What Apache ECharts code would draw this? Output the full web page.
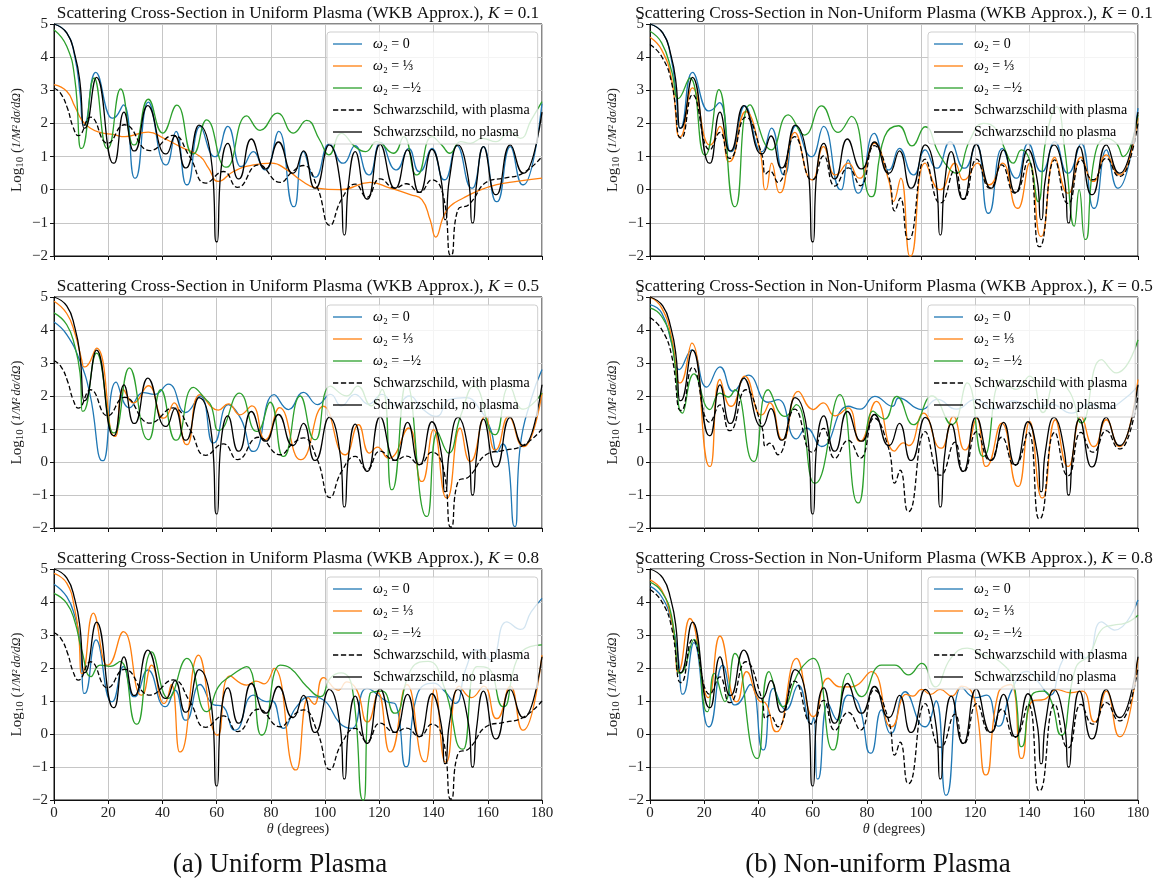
<!DOCTYPE html>
<html>
<head>
<meta charset="utf-8">
<title>Scattering cross-section</title>
<script src="https://cdn.jsdelivr.net/npm/echarts/dist/echarts.min.js"></script>
<style>
  html, body { margin: 0; padding: 0; background: #fff; }
  #chart { width: 1167px; height: 881px; }
</style>
</head>
<body>
<div id="chart"></div>
<script>
// theta (deg) -> log10 cross-section

// same curve in every panel
const blackNoPlasma = [[0,5.0],[4.7,4.73],[7.7,4.07],[9.6,3.22],[11.0,1.86],[11.4,1.86],[15.7,3.39],[21.8,0.8],[22.2,0.8],[25.8,2.34],[29.4,1.17],[29.8,1.17],[34.6,2.54],[41.0,1.08],[41.4,1.08],[44.6,1.62],[48.4,0.66],[48.8,0.66],[53.5,1.95],[58.3,0.7],[59.8,-1.57],[60.2,-1.57],[61.6,0.6],[64.1,1.4],[67.9,0.33],[68.3,0.33],[72.8,1.53],[77.8,0.63],[78.2,0.63],[82.8,1.44],[87.9,0.5],[88.3,0.5],[92,1.17],[96.1,0.05],[96.5,0.05],[101.5,1.35],[105.6,0.2],[106.9,-1.36],[107.3,-1.36],[108.6,0.15],[111.1,1.15],[115.3,-0.28],[115.7,-0.28],[120.3,1.37],[125.6,0.05],[126.0,0.05],[130.4,1.2],[134.6,-0.08],[135.0,-0.08],[139.4,1.22],[142.8,0.3],[144.1,-0.9],[144.5,-0.9],[145.8,0.3],[149,1.35],[152.9,0.3],[154.2,-1.0],[154.6,-1.0],[155.9,0.2],[158.4,1.3],[162.8,-0.15],[163.2,-0.15],[168.3,1.35],[173.0,0.5],[173.4,0.5],[180,2.34]];

// Schwarzschild with plasma
const dashUniform = [[0,3.07],[2.5,2.9],[5,2.45],[7,1.9],[9,1.63],[13.5,2.19],[19.8,1.4],[26,1.96],[35.4,1.18],[44,1.64],[50,1.0],[56,0.2],[62.5,0.55],[67.7,0.07],[75.4,0.75],[83.4,0.22],[88,0.55],[92,0.73],[97,0.1],[101.8,-1.08],[106,-0.3],[111.1,0.17],[115.4,-0.23],[120.3,0.33],[125.8,0.05],[130,0.18],[134.8,-0.08],[139.4,0.3],[143.5,-0.15],[146.2,-1.97],[146.6,-1.97],[149,-0.6],[153,-0.45],[160,0.25],[166,0.35],[173,0.5],[180,1.0]];
const dashNonUniform = [[0,4.38],[4.3,4.02],[8,3.22],[11.2,1.56],[11.6,1.56],[15.7,2.87],[22.1,1.2],[25.8,1.73],[29.2,0.95],[29.6,0.95],[35.3,2.19],[41.2,1.08],[42.6,0.47],[44.1,0.57],[47.2,0.22],[53.4,1.6],[59.6,0.3],[60.0,0.3],[64,1.02],[68.2,0.11],[73.1,0.66],[77.6,0.12],[82.7,1.33],[88.0,0.42],[90.3,-0.64],[92.3,-0.25],[95.1,-1.5],[95.5,-1.5],[101.5,0.92],[106.8,-0.4],[107.2,-0.4],[112.5,0.6],[115.4,-0.29],[115.8,-0.29],[120.5,0.92],[125.2,0.05],[125.6,0.05],[129.7,0.75],[134.4,-0.1],[134.8,-0.1],[139.5,0.9],[143.4,-1.72],[143.8,-1.72],[149.3,0.9],[154,-0.41],[154.4,-0.41],[159,0.9],[163.2,0.3],[163.6,0.3],[168.3,0.95],[173.1,0.4],[173.5,0.4],[180,2.0]];

// uniform plasma, K = 0.1
const blueU1 = [[0,5.0],[4.7,4.73],[7.7,4.0],[9.6,2.9],[10.7,1.95],[11.1,1.95],[15.4,3.54],[21.4,2.16],[21.8,2.16],[25.6,2.56],[29.7,0.35],[30.1,0.35],[34.8,2.64],[41.1,0.75],[41.5,0.75],[45,1.76],[48.8,0.15],[49.2,0.15],[53.9,1.91],[59.2,1.0],[59.6,1.0],[64.1,1.91],[68.8,0.7],[69.2,0.7],[73.5,1.15],[77.8,0.6],[78.2,0.6],[82.9,1.76],[88.3,-0.51],[88.7,-0.51],[92,1.15],[96.1,0.38],[96.5,0.38],[101.6,1.38],[106.5,0.8],[106.9,0.8],[111,1.33],[116,0.45],[116.4,0.45],[120.5,1.43],[126,0.6],[126.4,0.6],[130.8,1.25],[134.6,0.55],[135,0.55],[139.4,1.25],[143.8,0.3],[144.2,0.3],[148.6,1.33],[154,0.05],[154.4,0.05],[158.4,1.3],[163.1,-0.36],[163.5,-0.36],[168.3,1.3],[172.8,0.15],[173.2,0.15],[180,2.6]];
const orangeU1 = [[0,3.17],[4.7,2.97],[7.7,2.51],[10.2,2.11],[13.3,1.86],[17,1.73],[22,1.66],[26.2,1.6],[31.7,1.7],[34.8,1.74],[40.3,1.56],[46.5,1.3],[53.9,1.0],[57,0.65],[60.6,0.25],[66.2,0.55],[73.6,0.75],[80.3,0.8],[85.9,0.6],[90.8,0.3],[96.9,0.05],[105.5,0.0],[116.6,0.22],[124,0.05],[131.4,-0.15],[135.7,-0.3],[138.7,-0.9],[140.8,-1.43],[143.7,-0.8],[146.1,-0.5],[151,-0.25],[156,-0.05],[163.3,0.15],[170.7,0.25],[180,0.35]];
const greenU1 = [[0,4.83],[4.7,4.33],[7.7,3.32],[9.9,1.25],[10.3,1.25],[14.8,3.37],[19.5,1.25],[19.9,1.25],[24.6,3.04],[29.3,1.35],[29.7,1.35],[34.8,2.73],[40.1,1.71],[45.3,2.55],[51.0,1.08],[51.4,1.08],[56.3,2.11],[63.3,0.68],[63.7,0.68],[71.1,2.23],[76,1.79],[82.4,2.31],[88.3,1.71],[93.2,2.09],[98,1.5],[101.4,1.05],[106,1.7],[111,1.3],[115,1.15],[119,1.45],[125.2,1.1],[129,1.6],[133.6,0.45],[134.0,0.45],[139.4,1.6],[143,1.35],[146,1.1],[150,1.45],[153.5,1.4],[158,1.55],[163,1.45],[168,1.75],[172,1.55],[176,2.1],[180,2.66]];

// uniform plasma, K = 0.5
const blueU2 = [[0,4.24],[4.7,3.86],[9.6,3.05],[13.3,2.04],[17.8,0.04],[18.2,0.04],[22.9,2.42],[27.8,1.64],[33,2.1],[37,2.05],[42.2,2.36],[48.6,1.5],[53.9,2.0],[58.6,0.58],[59.0,0.58],[64.3,1.74],[69,1.3],[73.4,0.32],[73.8,0.32],[81.2,2.04],[86.5,1.59],[92,2.11],[97.2,1.74],[102,2.05],[106,1.7],[111,2.05],[116,1.75],[121,2.05],[126,1.7],[131,2.0],[136,1.6],[141,1.38],[146,1.9],[152,1.95],[157,1.6],[161,1.0],[163.5,0.3],[165.5,0.55],[167.5,0.1],[169.8,-1.95],[170.2,-1.95],[172,0.5],[176,1.9],[180,2.8]];
const orangeU2 = [[0,4.87],[4.7,4.5],[7.7,3.9],[10.2,3.1],[11.0,2.88],[11.4,2.88],[15.7,3.45],[22.3,0.78],[22.7,0.78],[25.6,2.19],[29.3,1.79],[34.8,2.31],[40.1,1.33],[40.5,1.33],[44.3,1.79],[48.8,0.53],[49.2,0.53],[53.9,2.04],[60.6,1.57],[64.3,1.76],[68.6,1.43],[73,1.7],[77.7,0.68],[78.1,0.68],[83.2,1.65],[90.8,0.07],[91.2,0.07],[99.4,1.69],[107.2,0.22],[107.6,0.22],[112.3,1.13],[116.4,0.27],[119.3,0.45],[123.4,0.12],[123.8,0.12],[130.8,1.03],[135.5,-0.59],[135.9,-0.59],[140,0.98],[144.7,-1.09],[145.1,-1.09],[149.8,1.03],[153.3,0.02],[153.7,0.02],[159,1.38],[162.5,0.37],[162.9,0.37],[167.7,1.38],[173,0.47],[173.4,0.47],[180,2.09]];
const greenU2 = [[0,4.52],[4.7,4.16],[7.7,3.5],[9.6,2.7],[10.4,1.54],[10.8,1.54],[15.7,3.3],[21.9,0.88],[22.3,0.88],[27.8,2.85],[34.6,0.68],[35.0,0.68],[39.4,2.19],[44.8,0.66],[45.2,0.66],[51.4,2.26],[56.1,1.89],[58,1.7],[60.4,0.96],[60.8,0.96],[68.4,2.09],[74.6,0.93],[75.0,0.93],[79.7,1.81],[84.4,0.17],[84.8,0.17],[90.8,2.0],[96.1,0.68],[96.5,0.68],[102,2.3],[108,2.0],[112,2.3],[117,1.7],[121,2.2],[124.4,-0.84],[124.8,-0.84],[130,2.4],[137.3,-1.65],[137.7,-1.65],[141.5,0.9],[145.5,0.27],[150,1.4],[155,2.3],[162.5,0.83],[162.9,0.83],[168,2.3],[173,1.6],[180,2.09]];

// uniform plasma, K = 0.8
const blueU3 = [[0,4.54],[4.7,4.16],[7.7,3.56],[9.6,2.8],[11.0,1.23],[11.4,1.23],[15.5,2.85],[21.1,0.98],[21.5,0.98],[25.6,2.04],[29.3,1.13],[29.7,1.13],[34.6,1.94],[40.8,0.83],[41.2,0.83],[44.6,1.33],[48.4,0.42],[48.8,0.42],[53.9,1.5],[59,0.88],[62,0.85],[66.6,0.12],[67.0,0.12],[73.6,1.18],[78.5,0.98],[80.5,1.0],[84.6,0.17],[89.5,0.83],[94.5,1.13],[99.4,1.03],[105.5,0.32],[109.8,0.17],[115.4,1.38],[122.8,0.98],[126,0.9],[129.7,-0.99],[130.1,-0.99],[134,1.2],[140,1.54],[144,1.3],[148,0.93],[152,2.0],[156,2.55],[161,2.25],[167,3.4],[172,3.17],[176,3.7],[180,4.11]];
const orangeU3 = [[0,4.87],[4.7,4.57],[7.7,3.76],[9.2,2.9],[10.0,1.84],[10.4,1.84],[14.5,3.66],[19.5,2.09],[19.9,2.09],[25.6,3.1],[32.1,1.18],[32.5,1.18],[36,2.09],[40.4,0.93],[40.8,0.93],[43.3,1.5],[46.3,-0.54],[46.7,-0.54],[53.3,2.39],[60.1,-0.03],[60.5,-0.03],[64.9,1.76],[71.1,1.48],[74.5,1.6],[77.5,1.52],[81.2,1.99],[89.0,-1.09],[89.4,-1.09],[93.8,1.1],[96,0.9],[99.4,1.71],[104.9,1.33],[108,1.58],[111.7,1.33],[115.4,0.37],[115.8,0.37],[119.5,1.25],[123.8,-0.54],[124.2,-0.54],[130.2,1.5],[136.7,-0.84],[137.1,-0.84],[140.5,1.4],[144.3,-0.85],[144.7,-0.85],[149.5,1.45],[154,1.1],[158.5,1.45],[163.1,0.47],[163.5,0.47],[168.3,1.45],[172.8,0.12],[173.2,0.12],[180,2.39]];
const greenU3 = [[0,4.26],[4.7,3.96],[7.7,3.4],[10.2,2.55],[13.7,1.74],[17,2.09],[20.7,2.05],[24.4,2.2],[30.3,0.3],[30.7,0.3],[36,2.49],[42.2,1.08],[49,2.29],[56.1,0.68],[56.5,0.68],[60.6,1.43],[65,1.75],[71.1,2.04],[76.4,-0.03],[76.8,-0.03],[83.4,2.09],[87.1,2.0],[93.2,1.44],[98.2,1.13],[102,1.7],[106,1.85],[110,1.4],[113.9,-2.0],[114.3,-2.0],[116.6,1.23],[121,1.3],[125.6,0.63],[126,0.63],[132,2.0],[138,2.2],[144,1.4],[150.6,-0.46],[151,-0.46],[156,2.04],[160,2.0],[165.6,0.83],[166,0.83],[170.7,2.24],[175.6,2.65],[180,2.7]];

// non-uniform plasma, K = 0.1
const blueN1 = [[0,5.0],[4.7,4.73],[7.7,4.0],[9.6,2.9],[10.8,1.86],[11.2,1.86],[15.7,3.54],[21.5,2.38],[21.9,2.38],[25.6,2.63],[29.7,1.15],[30.1,1.15],[35,2.53],[41.0,1.15],[41.4,1.15],[44.8,1.86],[49.3,0.45],[49.7,0.45],[53.8,1.93],[59.4,1.0],[59.8,1.0],[64,1.91],[70.2,0.0],[70.6,0.0],[73.1,0.9],[76.6,-0.1],[77.0,-0.1],[82.7,1.7],[87.8,0.6],[88.2,0.6],[92,1.25],[97.0,0.45],[97.4,0.45],[101.5,1.2],[105.6,0.65],[106.0,0.65],[110.7,1.45],[115.8,0.65],[116.2,0.65],[120.3,1.4],[124.6,-0.71],[125.0,-0.71],[130,1.25],[135,0.35],[135.4,0.35],[139.5,1.4],[144.3,0.55],[144.7,0.55],[149.3,1.45],[153.9,0.5],[154.3,0.5],[159,1.4],[163.6,-0.56],[164.0,-0.56],[168.3,1.2],[172.4,0.05],[172.8,0.05],[180,2.46]];
const orangeN1 = [[0,4.6],[4.3,4.22],[8,3.32],[10.8,1.6],[11.2,1.6],[15.7,3.07],[21.9,1.35],[22.3,1.35],[25.8,1.91],[29.0,0.85],[29.4,0.85],[35.3,2.36],[40.5,1.2],[42.4,0.0],[42.8,0.0],[44.9,0.8],[47.7,-0.09],[48.1,-0.09],[53.4,1.73],[59.6,0.3],[60.0,0.3],[64,1.3],[68,0.45],[68.4,0.45],[73.1,0.8],[77.2,0.35],[77.6,0.35],[82.7,1.4],[88,0.3],[89.8,-0.36],[92.5,0.35],[95.8,-2.0],[96.2,-2.0],[101.5,0.8],[106.8,0.0],[107.2,0.0],[112.5,0.8],[115.4,0.3],[115.8,0.3],[120.8,0.8],[124.9,0.15],[125.3,0.15],[130,0.8],[135.4,-0.56],[135.8,-0.56],[140,0.8],[144.0,-1.41],[144.4,-1.41],[149.3,0.98],[154,-0.1],[154.4,-0.1],[159,0.98],[163.2,0.25],[163.6,0.25],[168.3,1.05],[173.1,0.45],[173.5,0.45],[180,2.16]];
const greenN1 = [[0,4.78],[4.3,4.43],[8,3.57],[10.5,2.75],[14.7,3.37],[20.1,1.05],[20.5,1.05],[25.4,3.02],[31.1,-0.51],[31.5,-0.51],[36.9,2.56],[44.8,1.2],[51,2.26],[57,1.65],[63.3,2.53],[69.4,1.73],[74.3,2.21],[81.5,-0.21],[81.9,-0.21],[86.5,1.6],[91.7,1.93],[96.6,1.32],[101.5,1.9],[106.5,1.1],[110.7,0.6],[113,0.5],[118,1.5],[123,2.0],[128,1.8],[131,1.2],[134,0.8],[137,1.2],[140,0.9],[143.2,-0.36],[146,1.5],[150,2.5],[153,1.2],[156.5,-1.1],[158.3,0.0],[160.4,-1.5],[160.8,-1.5],[164,1.0],[168.3,1.55],[172,1.4],[174.5,1.0],[180,2.26]];

// non-uniform plasma, K = 0.5
const blueN2 = [[0,4.77],[4.3,4.52],[8,3.6],[10.8,2.8],[15.4,3.4],[20.9,2.27],[25.8,2.88],[30.7,2.14],[36.2,2.63],[43.6,1.81],[47.3,1.89],[54,0.7],[57.7,1.03],[63.3,0.47],[73.1,1.69],[77.5,1.6],[82.9,1.99],[89.5,1.69],[91.7,1.94],[100.2,1.59],[106,1.9],[113,1.6],[120,1.9],[127,1.6],[134,1.85],[141,1.6],[148,1.75],[155.5,1.48],[162,1.75],[168,1.6],[174,1.85],[180,2.3]];
const orangeN2 = [[0,5.0],[4.3,4.67],[8,3.76],[10.8,2.4],[11.2,2.4],[15.4,3.6],[21.9,-0.13],[22.3,-0.13],[25.8,2.5],[29.7,1.69],[30.1,1.69],[35,2.6],[40.8,1.43],[41.2,1.43],[44.2,1.79],[48.7,0.68],[49.1,0.68],[54.7,2.14],[60.2,1.59],[63.9,1.79],[68.2,1.4],[73.1,1.64],[77.2,0.63],[77.6,0.63],[83.5,1.84],[90.2,0.33],[93.5,0.58],[95.5,0.5],[100.9,1.48],[107.2,0.42],[107.6,0.42],[111.9,1.38],[116,0.37],[116.4,0.37],[120.5,1.33],[123.7,-0.13],[124.1,-0.13],[129.7,1.18],[135.6,-0.74],[136.0,-0.74],[140,1.23],[144.5,-1.09],[144.9,-1.09],[149.5,1.28],[154,-0.13],[154.4,-0.13],[159,1.38],[163.5,0.47],[163.9,0.47],[168.3,1.28],[173.1,0.47],[173.5,0.47],[180,2.5]];
const greenN2 = [[0,4.67],[4.3,4.41],[8,3.6],[12,1.48],[16.2,2.67],[22.1,1.59],[25.8,2.09],[28.9,1.97],[31.3,2.19],[38.1,0.02],[38.5,0.02],[43.6,2.19],[49.8,1.38],[54,1.74],[60.6,-0.64],[61.0,-0.64],[70,2.04],[76.6,-1.24],[77.0,-1.24],[82.3,1.54],[86.5,1.3],[91,1.99],[97.2,1.13],[104,2.0],[111.3,1.13],[117,2.4],[122.7,0.17],[123.1,0.17],[130,2.5],[135,2.2],[140,2.6],[145,1.5],[150,2.5],[155,2.1],[159.1,1.18],[166.5,3.1],[172,2.7],[180,3.7]];

// non-uniform plasma, K = 0.8
const blueN3 = [[0,4.48],[4.3,4.16],[8,3.4],[10.4,2.34],[11.8,1.21],[12.2,1.21],[16.2,2.77],[21.5,0.22],[21.9,0.22],[26.8,2.09],[31.1,0.88],[31.5,0.88],[37,1.5],[41.6,-0.48],[42.0,-0.48],[45.5,1.38],[50.1,0.73],[54.7,1.48],[59.4,0.3],[60.4,0.5],[61.6,-1.36],[62.0,-1.36],[65.7,0.93],[69.2,0.42],[73.1,1.18],[77,0.9],[81.2,-0.58],[81.6,-0.58],[85.4,0.73],[88.6,0.02],[89.0,0.02],[94.1,1.28],[101.3,0.22],[101.7,0.22],[105.5,1.0],[109.0,-1.85],[109.4,-1.85],[115,1.43],[120,1.1],[124.2,1.18],[128.3,0.24],[128.7,0.24],[133.4,1.33],[139,1.9],[143,1.6],[147.5,1.18],[152,2.2],[156,2.5],[161,2.3],[166.5,3.4],[171.4,3.15],[180,4.06]];
const orangeN3 = [[0,4.67],[4.3,4.36],[7.4,3.66],[9.2,2.8],[10.0,1.89],[10.4,1.89],[14.7,3.5],[21.5,1.1],[25.8,2.97],[31.7,0.98],[32.1,0.98],[35.6,1.89],[40.3,1.0],[42.5,0.95],[46.5,0.07],[46.9,0.07],[54,2.29],[60.0,0.53],[60.4,0.53],[65.7,1.69],[70,1.43],[74.3,1.43],[81.7,1.89],[88.8,0.22],[89.2,0.22],[94.5,1.2],[97,1.15],[100.2,1.35],[103.5,1.2],[107,1.35],[111.3,1.15],[115,1.45],[119.5,1.1],[123.7,-1.24],[124.1,-1.24],[128.5,1.25],[133,1.5],[136.8,-0.74],[137.2,-0.74],[141,1.0],[145.5,1.05],[150,1.35],[155,1.25],[159.5,1.3],[163.8,0.37],[164.2,0.37],[168.3,1.3],[173.1,-0.08],[173.5,-0.08],[180,2.29]];
const greenN3 = [[0,4.6],[4.3,4.31],[8,3.56],[10.8,1.84],[11.2,1.84],[16.2,2.87],[20.9,0.68],[21.3,0.68],[23.7,1.84],[27.6,0.98],[31.3,2.44],[39.4,-0.74],[39.8,-0.74],[43.9,1.89],[49.1,0.83],[55,1.9],[60.2,2.29],[67.4,-0.48],[67.8,-0.48],[73.1,1.84],[78,1.13],[85.4,2.09],[90.3,2.09],[95.3,1.79],[100.2,2.14],[105.2,1.43],[111,2.3],[117,2.6],[123,2.4],[129,2.2],[134,1.6],[136.8,-0.38],[137.2,-0.38],[141,1.2],[145,1.3],[148,1.0],[151.6,-0.03],[152.0,-0.03],[157,2.0],[162,2.4],[167,3.2],[171,3.3],[175,3.35],[180,3.6]];

const SERIF = '"Liberation Serif", "DejaVu Serif", serif';
const BLUE = '#1f77b4', ORANGE = '#ff7f0e', GREEN = '#2ca02c';

const nameBlue = 'ω2 = 0';
const nameOrange = 'ω2 = 1/3';
const nameGreen = 'ω2 = −1/2';

// legend swatches: a plain stroke and a dashed one
const ICON_SOLID = 'path://M0,0h29v1.3h-29z';
const ICON_DASH = 'path://M0,0h5v1.3h-5z M7.5,0h5v1.3h-5z M15,0h5v1.3h-5z M22.5,0h5v1.3h-5z';

// panel order: row by row, uniform on the left
const panels = [
  { kind: 'Uniform', K: '0.1', blue: blueU1, orange: orangeU1, green: greenU1, dash: dashUniform },
  { kind: 'Non-Uniform', K: '0.1', blue: blueN1, orange: orangeN1, green: greenN1, dash: dashNonUniform },
  { kind: 'Uniform', K: '0.5', blue: blueU2, orange: orangeU2, green: greenU2, dash: dashUniform },
  { kind: 'Non-Uniform', K: '0.5', blue: blueN2, orange: orangeN2, green: greenN2, dash: dashNonUniform },
  { kind: 'Uniform', K: '0.8', blue: blueU3, orange: orangeU3, green: greenU3, dash: dashUniform },
  { kind: 'Non-Uniform', K: '0.8', blue: blueN3, orange: orangeN3, green: greenN3, dash: dashNonUniform },
];

const boxes = [
  { left: 54, top: 24, width: 488, height: 232 },
  { left: 650, top: 24, width: 488, height: 232 },
  { left: 54, top: 297, width: 488, height: 231 },
  { left: 650, top: 297, width: 488, height: 231 },
  { left: 54, top: 569, width: 488, height: 231 },
  { left: 650, top: 569, width: 488, height: 231 },
];

function legendText(name) {
  if (name === nameBlue) return '{i|ω}{t|₂ = 0}';
  if (name === nameOrange) return '{i|ω}{t|₂ = ⅓}';
  if (name === nameGreen) return '{i|ω}{t|₂ = −½}';
  return '{t|' + name + '}';
}

const richText = {
  i: { fontFamily: SERIF, fontSize: 14, fontStyle: 'italic', color: '#000' },
  t: { fontFamily: SERIF, fontSize: 14, color: '#000' },
};

const grids = [], xAxes = [], yAxes = [], series = [], legends = [], graphics = [];

panels.forEach((p, i) => {
  const b = boxes[i];
  const isLeft = i % 2 === 0;
  const isBottom = i >= 4;
  const dashName = isLeft ? 'Schwarzschild, with plasma' : 'Schwarzschild with plasma';
  const blackName = isLeft ? 'Schwarzschild, no plasma' : 'Schwarzschild no plasma';

  grids.push({ ...b, show: true, borderColor: '#111', borderWidth: 1, backgroundColor: 'transparent' });

  xAxes.push({
    gridIndex: i, type: 'value', min: 0, max: 180, interval: 20,
    axisLine: { show: true, onZero: false, lineStyle: { color: '#111', width: 1 } },
    axisTick: { show: true, length: 4, lineStyle: { color: '#111' } },
    axisLabel: { show: isBottom, fontFamily: SERIF, fontSize: 15, color: '#222', margin: 6 },
    splitLine: { show: true, lineStyle: { color: '#c6c6c6', width: 1 } },
    name: isBottom ? '{i|θ} (degrees)' : '',
    nameLocation: 'middle', nameGap: 22,
    nameTextStyle: { fontFamily: SERIF, fontSize: 14, color: '#222', rich: { i: { fontFamily: SERIF, fontSize: 14, fontStyle: 'italic', color: '#222' } } },
  });

  yAxes.push({
    gridIndex: i, type: 'value', min: -2, max: 5, interval: 1,
    axisLine: { show: true, onZero: false, lineStyle: { color: '#111', width: 1 } },
    axisTick: { show: true, length: 4, lineStyle: { color: '#111' } },
    axisLabel: {
      fontFamily: SERIF, fontSize: 15, color: '#222', margin: 6,
      formatter: v => (v < 0 ? '\u2212' + Math.abs(v) : String(v)),
    },
    splitLine: { show: true, lineStyle: { color: '#c6c6c6', width: 1 } },
    name: '{a|Log}{s|10}{a| (}{f|1/M²}{g| }{f|dσ/dΩ}{a|)}',
    nameLocation: 'middle', nameRotate: 90, nameGap: 28,
    nameTextStyle: {
      rich: {
        a: { fontFamily: SERIF, fontSize: 15, color: '#222' },
        s: { fontFamily: SERIF, fontSize: 11, color: '#222', padding: [7, 0, 0, 0] },
        f: { fontFamily: SERIF, fontSize: 12, fontStyle: 'italic', color: '#222' },
        g: { fontFamily: SERIF, fontSize: 8, color: '#222' },
      },
    },
  });

  const lines = [
    { name: nameBlue, data: p.blue, color: BLUE, type: 'solid', icon: ICON_SOLID },
    { name: nameOrange, data: p.orange, color: ORANGE, type: 'solid', icon: ICON_SOLID },
    { name: nameGreen, data: p.green, color: GREEN, type: 'solid', icon: ICON_SOLID },
    { name: dashName, data: p.dash, color: '#000', type: [5, 2.5], icon: ICON_DASH },
    { name: blackName, data: blackNoPlasma, color: '#000', type: 'solid', icon: ICON_SOLID },
  ];
  lines.forEach(l => {
    series.push({
      type: 'line', name: l.name, xAxisIndex: i, yAxisIndex: i,
      data: l.data, symbol: 'none', showSymbol: false, smooth: 0.5,
      clip: true, animation: false,
      lineStyle: { color: l.color, width: 1.3, type: l.type },
      itemStyle: { color: l.color },
      emphasis: { disabled: true },
    });
  });

  legends.push({
    orient: 'vertical',
    left: isLeft ? 327 : 928,
    top: b.top + 8,
    data: lines.map(l => ({ name: l.name, icon: l.icon })),
    itemWidth: 29, itemHeight: 1.3, itemGap: 8,
    symbolKeepAspect: false,
    padding: [5, 8, 5, 6],
    backgroundColor: 'rgba(255,255,255,0.8)',
    borderColor: '#cfcfcf', borderWidth: 1, borderRadius: 3,
    selectedMode: false,
    formatter: legendText,
    textStyle: { fontFamily: SERIF, fontSize: 14, color: '#000', padding: [0, 0, 0, 6], rich: richText },
  });

  // title above each panel
  graphics.push({
    type: 'text',
    x: b.left + b.width / 2, y: b.top - 11,
    style: {
      text: '{t|Scattering Cross-Section in ' + p.kind + ' Plasma (WKB Approx.), }{i|K}{t| = ' + p.K + '}',
      align: 'center', verticalAlign: 'middle',
      rich: {
        t: { fontFamily: SERIF, fontSize: 17.2, fill: '#111' },
        i: { fontFamily: SERIF, fontSize: 17.2, fontStyle: 'italic', fill: '#111' },
      },
    },
  });
});

graphics.push(
  { type: 'text', x: 280, y: 865, style: { text: '(a) Uniform Plasma', font: '27px ' + SERIF, fill: '#111', align: 'center', verticalAlign: 'middle' } },
  { type: 'text', x: 878, y: 865, style: { text: '(b) Non-uniform Plasma', font: '27px ' + SERIF, fill: '#111', align: 'center', verticalAlign: 'middle' } }
);

const chart = echarts.init(document.getElementById('chart'), null, { renderer: 'canvas' });
chart.setOption({
  backgroundColor: '#fff',
  animation: false,
  grid: grids,
  xAxis: xAxes,
  yAxis: yAxes,
  legend: legends,
  series: series,
  graphic: graphics,
});
</script>
</body>
</html>
